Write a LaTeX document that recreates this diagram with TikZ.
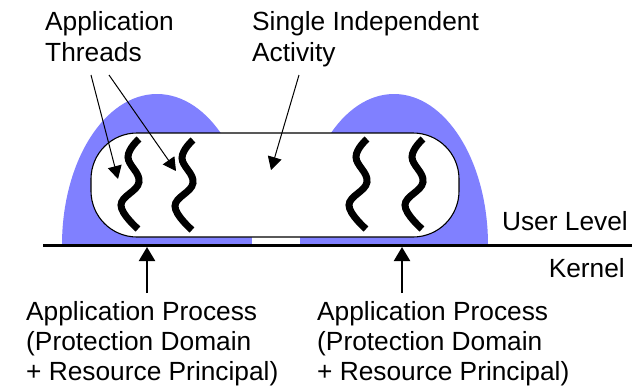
\documentclass[tikz,border=0pt]{standalone}
\usepackage{fontspec}
\setmainfont{Liberation Sans}
\usetikzlibrary{arrows.meta}

\definecolor{domeblue}{RGB}{128,128,255}

\tikzset{
  label/.style={inner sep=0pt, align=left, font=\fontsize{26.4}{31}\selectfont},
  lowlabel/.style={label, font=\fontsize{26.4}{30}\selectfont},
  thinarrow/.style={line width=1bp, -{Triangle[length=13bp,width=14bp]}},
  thickarrow/.style={line width=2.2bp, -{Triangle[length=14bp,width=16bp]}},
  threadline/.style={line width=7bp, line cap=butt},
  thread/.pic={\draw[threadline] plot[smooth, tension=0.7]
      coordinates {(0,0) (-11,18) (0,43) (-18,66) (-1,90)};},
}

\begin{document}
\begin{tikzpicture}[x=1bp, y=-1bp]
\useasboundingbox (0,0) rectangle (637,387);

% protection domains (user-level halves)
\fill[domeblue] (62,245) arc[start angle=180, end angle=360, x radius=95, y radius=151];
\fill[domeblue] (300,245) arc[start angle=180, end angle=360, x radius=94, y radius=151];

% the single independent activity
\node[draw, fill=white, line width=1.1bp, rounded corners=46bp,
      minimum width=368bp, minimum height=104bp, inner sep=0pt] (act) at (275,185) {};

% user / kernel boundary
\coordinate (bl) at (43,245.5);
\coordinate (br) at (632,245.5);
\draw[line width=2.5bp] (bl) -- (br);

% threads
\pic at (139,139) {thread};
\pic at (193,140) {thread};
\pic at (367,139) {thread};
\pic at (423,139) {thread};

% labels
\node[label, anchor=north west] (thr) at (45,11.5) {Application\\Threads};
\node[label, anchor=north west] (sia) at (252,11.5) {Single Independent\\Activity};
\node[label, anchor=north east] (ul) at (628,211) {User Level};
\node[label, anchor=north east] (kn) at (625,258) {Kernel};
\node[lowlabel, anchor=north west] (ap1) at (26,301) {Application Process\\(Protection Domain\\+ Resource Principal)};
\node[lowlabel, anchor=north west] (ap2) at (317,301) {Application Process\\(Protection Domain\\+ Resource Principal)};

% pointers from labels
\coordinate (t1s) at (91,75);   \coordinate (t1e) at (118,179);
\coordinate (t2s) at (109,75);  \coordinate (t2e) at (176,171);
\coordinate (sas) at (299,75);  \coordinate (sae) at (271,170);
\draw[thinarrow] (t1s) -- (t1e);
\draw[thinarrow] (t2s) -- (t2e);
\draw[thinarrow] (sas) -- (sae);

\coordinate (p1s) at (147,293); \coordinate (p1e) at (147,247);
\coordinate (p2s) at (402,293); \coordinate (p2e) at (402,247);
\draw[thickarrow] (p1s) -- (p1e);
\draw[thickarrow] (p2s) -- (p2e);
\end{tikzpicture}
\end{document}
